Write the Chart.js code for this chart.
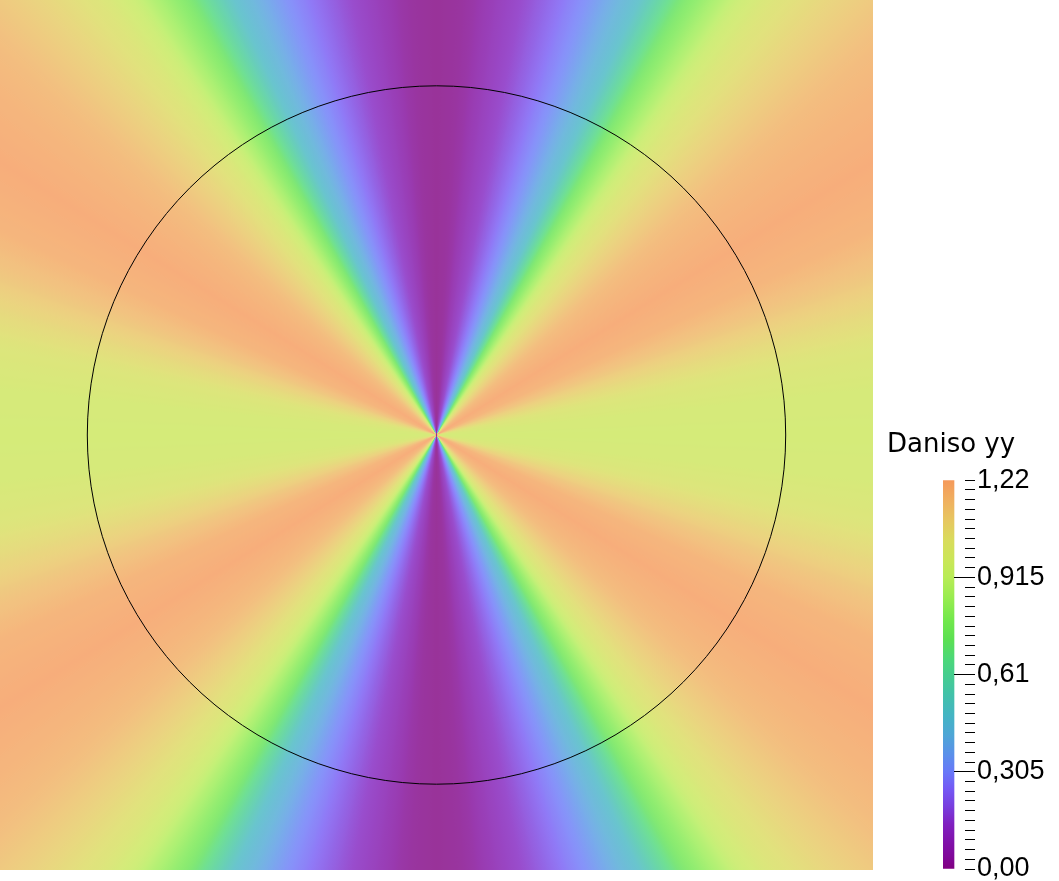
<!DOCTYPE html>
<html>
<head>
<meta charset="utf-8">
<script src="https://cdn.jsdelivr.net/npm/chart.js@4.4.1/dist/chart.umd.min.js"></script>
<style>
  html, body { margin: 0; padding: 0; background: #ffffff; overflow: hidden; width: 1059px; height: 881px; }
  #field { position: absolute; left: 0; top: 0; }
  #bar { position: absolute; left: 887px; top: 425px; }
</style>
</head>
<body>
<canvas id="field" width="873" height="870"></canvas>
<canvas id="bar" width="172" height="470"></canvas>
<script>
// ---- Data ----
// Angular profile of "Daniso yy": angle measured from the vertical axis (deg) -> value
const angleDeg = [0, 3, 5, 8, 11, 14, 17, 19, 22, 25, 27, 30, 33, 35, 38, 42, 45, 48, 52, 58, 65, 69, 74, 79, 84, 90];
const danisoYY = [0.00, 0.01, 0.03, 0.09, 0.14, 0.20, 0.27, 0.31, 0.40, 0.49, 0.60, 0.76, 0.87, 0.95, 1.02, 1.08, 1.12, 1.16, 1.19, 1.22, 1.19, 1.14, 1.07, 1.01, 0.98, 0.97];
// Circle outline radius (domain units, domain spans -1..1 horizontally)
const circleRadius = 0.8;
// Colour bar
const colorTitle = 'Daniso yy';
const tickValues = [0, 0.305, 0.61, 0.915, 1.22];
const tickLabels = ['0,00', '0,305', '0,61', '0,915', '1,22'];
const minorDivisions = 10;
// Colour map (value -> colour)
const cmapValues = [0, 0.04, 0.08, 0.14, 0.20, 0.25, 0.305, 0.36, 0.42, 0.48, 0.55, 0.61, 0.66, 0.72, 0.78, 0.85, 0.915, 0.97, 1.03, 1.09, 1.15, 1.22];
const cmapColors = ['#800080', '#80089a', '#8010a8', '#8020c0', '#7840e0', '#7458f4', '#6878f8', '#5a90ea', '#4ea6d6', '#44b4c4', '#42c2a8', '#46ce8e', '#4cd878', '#5ce052', '#72e84c', '#98ec50', '#b8ec56', '#cae658', '#d8dc5c', '#e6c860', '#efb260', '#f5995a'];

// ---- helpers ----
function hexToRgb(h) {
  return [parseInt(h.slice(1, 3), 16), parseInt(h.slice(3, 5), 16), parseInt(h.slice(5, 7), 16)];
}
const cmapRgb = cmapColors.map(hexToRgb);
function cmap(v) {
  if (v <= cmapValues[0]) return cmapRgb[0];
  const n = cmapValues.length;
  if (v >= cmapValues[n - 1]) return cmapRgb[n - 1];
  for (let i = 1; i < n; i++) {
    if (v <= cmapValues[i]) {
      const t = (v - cmapValues[i - 1]) / (cmapValues[i] - cmapValues[i - 1]);
      const a = cmapRgb[i - 1], b = cmapRgb[i];
      return [a[0] + (b[0] - a[0]) * t, a[1] + (b[1] - a[1]) * t, a[2] + (b[2] - a[2]) * t];
    }
  }
  return cmapRgb[n - 1];
}
function rgbStr(c, lighten) {
  const k = lighten || 0;
  return 'rgb(' + c.map(x => Math.round(x + (255 - x) * k)).join(',') + ')';
}
function profile(theta) {
  for (let i = 1; i < angleDeg.length; i++) {
    if (theta <= angleDeg[i]) {
      const t = (theta - angleDeg[i - 1]) / (angleDeg[i] - angleDeg[i - 1]);
      return danisoYY[i - 1] + (danisoYY[i] - danisoYY[i - 1]) * t;
    }
  }
  return danisoYY[danisoYY.length - 1];
}

// ---- field chart ----
const fieldPlugin = {
  id: 'fieldPlugin',
  beforeDatasetsDraw(chart) {
    const { ctx, chartArea } = chart;
    const xs = chart.scales.x, ys = chart.scales.y;
    const cx = xs.getPixelForValue(0), cy = ys.getPixelForValue(0);
    ctx.save();
    ctx.beginPath();
    ctx.rect(chartArea.left, chartArea.top, chartArea.right - chartArea.left, chartArea.bottom - chartArea.top);
    ctx.clip();
    const g = ctx.createConicGradient(-Math.PI / 2, cx, cy);
    const steps = 720;
    for (let s = 0; s <= steps; s++) {
      const a = s * 360 / steps;
      const b = a % 180;
      const theta = b <= 90 ? b : 180 - b;
      g.addColorStop(s / steps, rgbStr(cmap(profile(theta)), 0.2));
    }
    ctx.fillStyle = g;
    ctx.fillRect(chartArea.left, chartArea.top, chartArea.right - chartArea.left, chartArea.bottom - chartArea.top);
    // circle outline
    const r = xs.getPixelForValue(circleRadius) - cx;
    ctx.beginPath();
    ctx.arc(cx, cy, r, 0, Math.PI * 2);
    ctx.strokeStyle = '#000000';
    ctx.lineWidth = 1;
    ctx.stroke();
    ctx.restore();
  }
};

new Chart(document.getElementById('field'), {
  type: 'scatter',
  data: { datasets: [{ data: [], pointRadius: 0 }] },
  options: {
    responsive: false,
    animation: false,
    layout: { padding: 0 },
    plugins: { legend: { display: false }, tooltip: { enabled: false }, title: { display: false } },
    scales: {
      x: { type: 'linear', min: -1, max: 1, display: false },
      y: { type: 'linear', min: -0.9966, max: 0.9966, display: false }
    }
  },
  plugins: [fieldPlugin]
});

// ---- colour bar chart ----
const step = (tickValues[1] - tickValues[0]) / minorDivisions;
const tickMarkPlugin = {
  id: 'tickMarkPlugin',
  afterDraw(chart) {
    const { ctx, chartArea } = chart;
    const ys = chart.scales.y;
    const mid = Math.round((chartArea.left + chartArea.right) / 2);
    const right = Math.round(chartArea.right);
    ctx.save();
    ctx.strokeStyle = '#000000';
    ctx.lineWidth = 1;
    ys.ticks.forEach((t, i) => {
      const y = Math.round(ys.getPixelForValue(t.value) - 0.5) + 0.5;
      const isMajor = i % minorDivisions === 0;
      const isEnd = i === 0 || i === ys.ticks.length - 1;
      const x0 = (isMajor && !isEnd) ? mid : right;
      ctx.beginPath();
      ctx.moveTo(x0, y);
      ctx.lineTo(right + 10, y);
      ctx.stroke();
    });
    ctx.restore();
  }
};

new Chart(document.getElementById('bar'), {
  type: 'bar',
  data: {
    labels: [colorTitle],
    datasets: [{
      yAxisID: 'y',
      xAxisID: 'x',
      data: [tickValues[tickValues.length - 1]],
      barPercentage: 1,
      categoryPercentage: 1,
      borderWidth: 0,
      backgroundColor(c) {
        const area = c.chart.chartArea;
        if (!area) return '#888';
        const ys = c.chart.scales.y;
        const y0 = ys.getPixelForValue(cmapValues[0]);
        const y1 = ys.getPixelForValue(cmapValues[cmapValues.length - 1]);
        const g = c.chart.ctx.createLinearGradient(0, y0, 0, y1);
        const span = cmapValues[cmapValues.length - 1] - cmapValues[0];
        cmapValues.forEach((v, i) => g.addColorStop((v - cmapValues[0]) / span, cmapColors[i]));
        return g;
      }
    }]
  },
  options: {
    responsive: false,
    animation: false,
    layout: { padding: { left: 0, right: 0, top: 0, bottom: 26 } },
    plugins: {
      legend: { display: false },
      tooltip: { enabled: false },
      title: {
        display: true,
        text: colorTitle,
        align: 'start',
        color: '#000000',
        font: { family: '"DejaVu Sans", sans-serif', size: 26, weight: 'normal' },
        padding: { top: 5, bottom: 19 }
      }
    },
    scales: {
      x: { display: false, offset: false },
      yL: {
        position: 'left',
        display: true,
        grid: { display: false, drawTicks: false },
        border: { display: false },
        ticks: { display: false },
        afterFit(s) { s.width = 56; }
      },
      y: {
        position: 'right',
        min: tickValues[0],
        max: tickValues[tickValues.length - 1],
        grid: { display: true, drawOnChartArea: false, drawTicks: true, tickLength: 10, color: 'rgba(0,0,0,0)', lineWidth: 1 },
        border: { display: false },
        afterBuildTicks(s) {
          const ticks = [];
          const n = (tickValues.length - 1) * minorDivisions;
          for (let i = 0; i <= n; i++) ticks.push({ value: tickValues[0] + i * step });
          s.ticks = ticks;
        },
        afterFit(s) { s.width = 94; },
        ticks: {
          autoSkip: false,
          padding: 2,
          color: '#000000',
          font: { family: '"Liberation Sans", Arial, sans-serif', size: 27 },
          callback(v, i) { return i % minorDivisions === 0 ? tickLabels[i / minorDivisions] : ''; }
        }
      }
    }
  },
  plugins: [tickMarkPlugin]
});
</script>
</body>
</html>
